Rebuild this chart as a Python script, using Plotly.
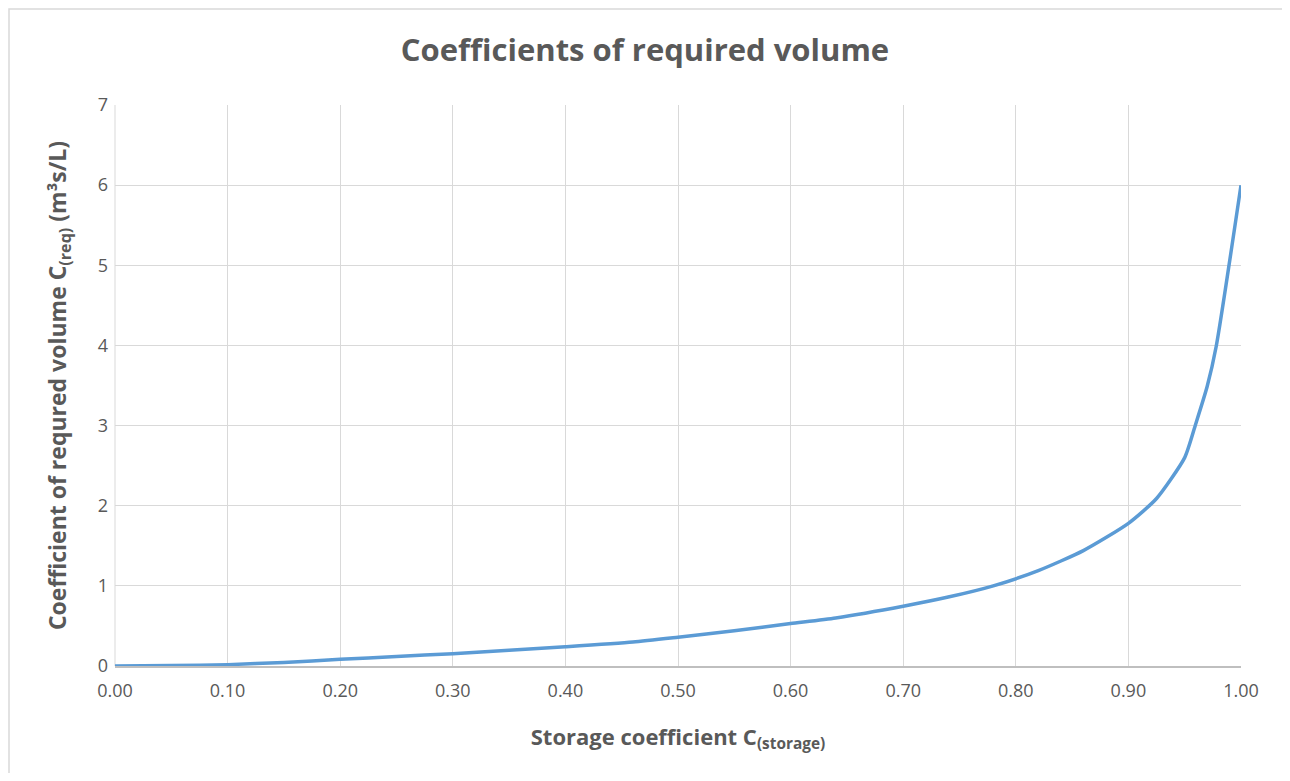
import plotly.graph_objects as go

storage_coeff = [0.0, 0.05, 0.1, 0.15, 0.2, 0.25, 0.3, 0.35, 0.4, 0.46, 0.5, 0.55, 0.6, 0.64,
                 0.7, 0.74, 0.78, 0.82, 0.86, 0.9, 0.925, 0.95, 0.96, 0.97, 0.978, 1.0]
required_coeff = [0.0, 0.006, 0.017, 0.045, 0.083, 0.118, 0.154, 0.195, 0.24, 0.30, 0.36, 0.44, 0.53, 0.60,
                  0.746, 0.86, 1.0, 1.19, 1.44, 1.78, 2.09, 2.60, 3.03, 3.49, 3.99, 6.0]

x_ticks = [0.0, 0.1, 0.2, 0.3, 0.4, 0.5, 0.6, 0.7, 0.8, 0.9, 1.0]
x_tick_labels = [f"{v:.2f}" for v in x_ticks]
y_ticks = [0, 1, 2, 3, 4, 5, 6, 7]

TXT = "#595959"
FONT = "Open Sans"

fig = go.Figure()
fig.add_trace(go.Scatter(
    x=storage_coeff, y=required_coeff, mode="lines",
    line=dict(color="#5b9bd5", width=3.5, shape="spline", smoothing=0.6),
    showlegend=False, hoverinfo="x+y",
))

W, H = 1274, 765
L, R, T, B = 107, 41, 97, 107
pw, ph = W - L - R, H - T - B

fig.update_layout(
    width=W, height=H,
    margin=dict(l=L, r=R, t=T, b=B),
    paper_bgcolor="white", plot_bgcolor="white",
    font=dict(family=FONT, color=TXT),
    title=dict(text="<b>Coefficients of required volume</b>",
               x=0.5, xanchor="center", y=1 - 42 / H, yanchor="middle",
               font=dict(size=31, color=TXT, family=FONT)),
    xaxis=dict(
        range=[0, 1], tickvals=x_ticks, ticktext=x_tick_labels,
        showgrid=True, gridcolor="#d9d9d9", gridwidth=1,
        showline=True, linecolor="#bfbfbf", linewidth=1.5,
        zeroline=False, ticks="", ticklabelstandoff=8,
        tickfont=dict(size=18, color=TXT),
        title=dict(text="<b>Storage coefficient C<sub>(storage)</sub></b>",
                   font=dict(size=22, color=TXT), standoff=28),
    ),
    yaxis=dict(
        range=[0, 7], tickvals=y_ticks,
        showgrid=True, gridcolor="#d9d9d9", gridwidth=1,
        showline=False, zeroline=False, ticks="", ticklabelstandoff=6,
        tickfont=dict(size=18, color=TXT),
        title=dict(text="<b>Coefficient of requred volume C<sub>(req)</sub> (m³s/L)</b>",
                   font=dict(size=23, color=TXT), standoff=24),
    ),
    shapes=[
        dict(type="line", xref="paper", yref="paper",
             x0=0, x1=0, y0=0, y1=1, line=dict(color="#d9d9d9", width=1), layer="below"),
        dict(type="rect", xref="paper", yref="paper",
             x0=(1 - L) / pw, x1=(W + 30 - L) / pw,
             y0=(-30 - B) / ph, y1=(H - 1 - B) / ph,
             line=dict(color="#d9d9d9", width=1.5), fillcolor="rgba(0,0,0,0)"),
    ],
)

fig.write_html("out.html")
